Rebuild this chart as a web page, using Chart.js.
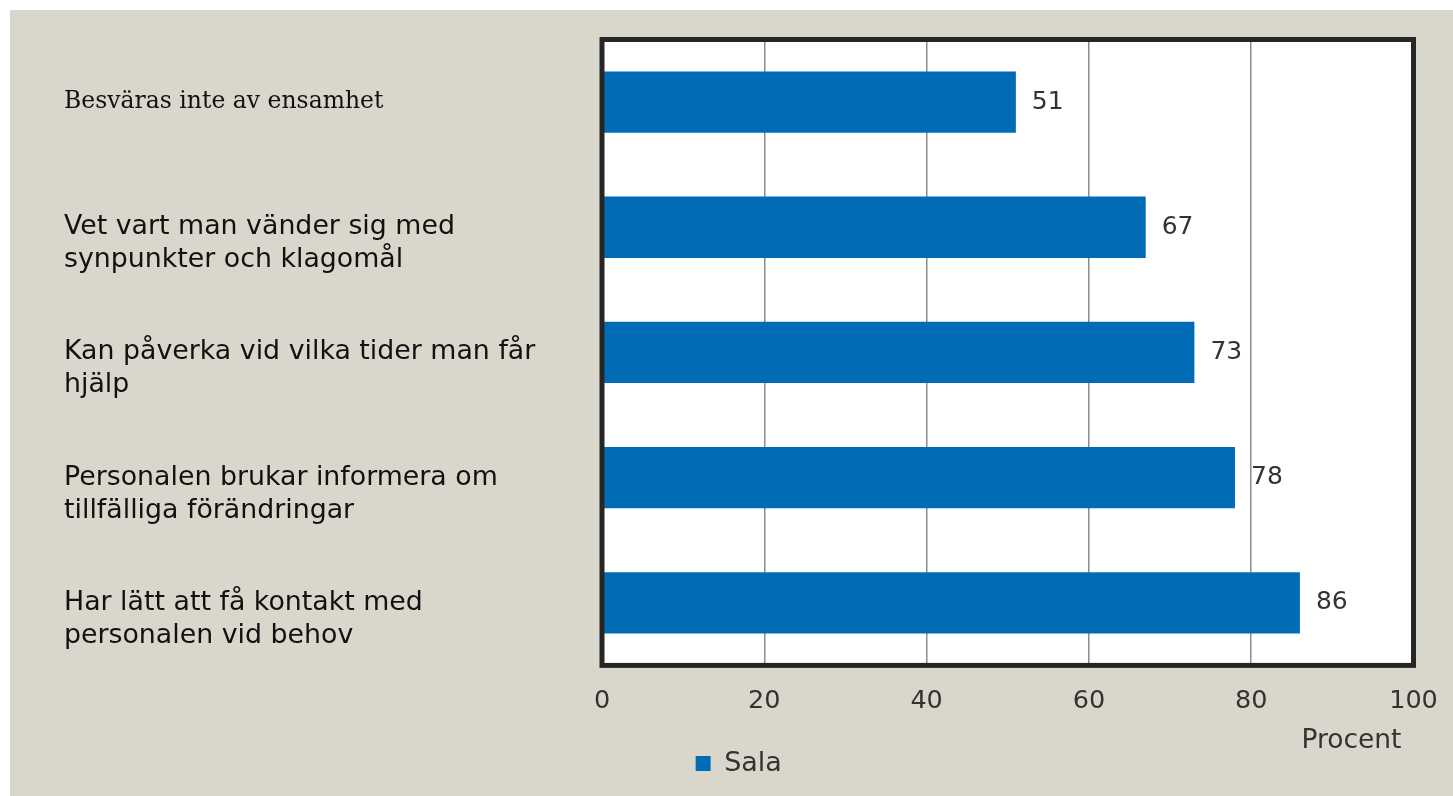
<!DOCTYPE html>
<html>
<head>
<meta charset="utf-8">
<script src="https://cdn.jsdelivr.net/npm/chart.js@4"></script>
<style>
    html, body { margin: 0; padding: 0; background: #ffffff; }
    #wrap {
        position: absolute;
        left: 10px; top: 10px;
        width: 1443px; height: 786px;
        background: #d9d7cb;
    }
</style>
</head>
<body>
<div id="wrap"><canvas id="chart" width="1443" height="786"></canvas></div>
<script>
// data
const categories = [
    'Besväras inte av ensamhet',
    ['Vet vart man vänder sig med', 'synpunkter och klagomål'],
    ['Kan påverka vid vilka tider man får', 'hjälp'],
    ['Personalen brukar informera om', 'tillfälliga förändringar'],
    ['Har lätt att få kontakt med', 'personalen vid behov']
];
const salaValues = [51, 67, 73, 78, 86];
const xTicks = [0, 20, 40, 60, 80, 100];
const seriesName = 'Sala';
const axisTitle = 'Procent';

const sansFont = '"DejaVu Sans", sans-serif';
const serifFont = '"DejaVu Serif", serif';

// tvåradiga etiketter: första raden i höjd med stapeln
const tickLabels = categories.map(c => Array.isArray(c) ? [''].concat(c) : c);

// vit rityta + tjock ram
const plotBox = {
    id: 'plotBox',
    beforeDraw(chart) {
        const a = chart.chartArea;
        const ctx = chart.ctx;
        ctx.save();
        ctx.fillStyle = '#ffffff';
        ctx.fillRect(a.left, a.top, a.right - a.left, a.bottom - a.top);
        ctx.restore();
    },
    afterDraw(chart) {
        const a = chart.chartArea;
        const ctx = chart.ctx;
        ctx.save();
        ctx.strokeStyle = '#262626';
        ctx.lineWidth = 5;
        ctx.strokeRect(a.left, a.top, a.right - a.left, a.bottom - a.top);
        // axeltitel
        ctx.fillStyle = '#333333';
        ctx.font = '26.5px ' + sansFont;
        ctx.textAlign = 'right';
        ctx.textBaseline = 'middle';
        ctx.fillText(axisTitle, a.right - 12, a.bottom + 76);
        ctx.restore();
    }
};

// värden vid staplarnas ände
const valueLabels = {
    id: 'valueLabels',
    afterDatasetsDraw(chart) {
        const ctx = chart.ctx;
        const meta = chart.getDatasetMeta(0);
        ctx.save();
        ctx.fillStyle = '#333333';
        ctx.font = '25px ' + sansFont;
        ctx.textAlign = 'left';
        ctx.textBaseline = 'middle';
        meta.data.forEach((bar, i) => {
            ctx.fillText(String(chart.data.datasets[0].data[i]), bar.x + 16, bar.y);
        });
        ctx.restore();
    }
};

new Chart(document.getElementById('chart'), {
    type: 'bar',
    data: {
        labels: tickLabels,
        datasets: [{
            label: seriesName,
            data: salaValues,
            backgroundColor: '#006cb5',
            borderWidth: 0,
            barPercentage: 0.49,
            categoryPercentage: 1
        }]
    },
    options: {
        indexAxis: 'y',
        responsive: false,
        animation: false,
        layout: { padding: { left: 54, right: 39.5, top: 29.5, bottom: 9 } },
        scales: {
            x: {
                min: 0,
                max: 100,
                afterBuildTicks(axis) { axis.ticks = xTicks.map(v => ({ value: v })); },
                afterFit(axis) { axis.paddingRight = 0; axis.paddingLeft = 0; },
                grid: { color: '#8c8c8c', lineWidth: 1.5, drawTicks: false },
                border: { display: false },
                ticks: {
                    padding: 21,
                    color: '#333333',
                    font: { family: sansFont, size: 25.5 }
                }
            },
            y: {
                afterFit(axis) { axis.width = 538; axis.paddingTop = 0; axis.paddingBottom = 0; },
                grid: { display: false, drawTicks: false },
                border: { display: false },
                ticks: {
                    crossAlign: 'far',
                    padding: 0,
                    color: '#111111',
                    font: (c) => c.index === 0
                        ? { family: serifFont, size: 23.5, lineHeight: 1.3 }
                        : { family: sansFont, size: 26.8, lineHeight: 1.23 }
                }
            }
        },
        plugins: {
            legend: {
                position: 'bottom',
                labels: {
                    boxWidth: 15,
                    boxHeight: 15,
                    padding: 12,
                    color: '#333333',
                    font: { family: sansFont, size: 27 }
                }
            },
            tooltip: { enabled: false }
        }
    },
    plugins: [plotBox, valueLabels]
});
</script>
</body>
</html>
